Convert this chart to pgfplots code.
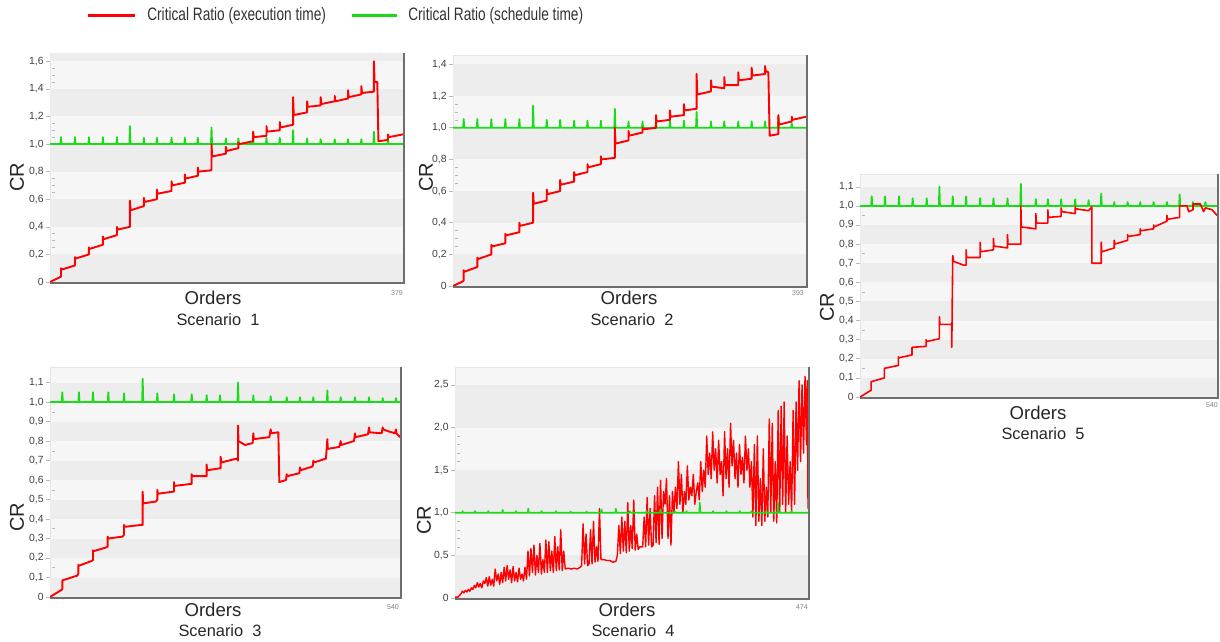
\documentclass[border=0pt]{standalone}
\usepackage{fontspec}
\setmainfont{Liberation Sans}
\usepackage{pgfplots}
\pgfplotsset{compat=1.18}
\definecolor{crred}{RGB}{255,0,0}
\definecolor{crgreen}{RGB}{25,220,25}
\definecolor{bandlight}{RGB}{246,246,246}
\definecolor{banddark}{RGB}{237,237,237}
\definecolor{shadowc}{RGB}{110,110,110}
\pgfplotsset{
 panel/.style={
  scale only axis, anchor=south west,
  xmin=0, ymin=0, xtick=\empty,
  axis background/.style={fill=bandlight},
  axis line style={draw=gray!20, line width=0.3pt},
  tick align=outside,
  major tick length=2pt, minor tick length=1.6pt,
  every tick/.style={gray!55, line width=0.3pt},
  minor tick style={xshift=2.4pt},
  ytick pos=left,
  yticklabel style={font=\fontsize{5.2}{6}\selectfont, text=gray!50!black, inner sep=1pt},
  /pgf/number format/assume math mode=true,
  after end axis/.code={\draw[shadowc, line width=1.2pt] ([xshift=0.6pt]rel axis cs:1,1) -- ([xshift=0.6pt,yshift=-0.6pt]rel axis cs:1,0) -- ([yshift=-0.6pt]rel axis cs:0,0);},
 },
 redl/.style={crred, line width=0.95pt, line join=round},
 grnl/.style={crgreen, line width=0.9pt, line join=round},
}
\begin{document}
\begin{tikzpicture}
\useasboundingbox (0,0) rectangle (610pt,-321pt);
% legend
\draw[crred, line width=1.5pt] (44pt,-8pt) -- (67.5pt,-8pt);
\node[anchor=west, inner sep=0pt, xscale=0.76, font=\fontsize{9}{10}\selectfont, text=black!80] at (73.5pt,-8pt) {Critical Ratio (execution time)};
\draw[crgreen, line width=1.5pt] (176pt,-8pt) -- (198.5pt,-8pt);
\node[anchor=west, inner sep=0pt, xscale=0.76, font=\fontsize{9}{10}\selectfont, text=black!80] at (204pt,-8pt) {Critical Ratio (schedule time)};

% ---------------- Scenario 1 ----------------
\begin{axis}[panel, at={(25pt,-141pt)}, width=176.5pt, height=114.5pt,
  xmax=379, ymax=1.66,
  ytick={0,0.2,0.4,0.6,0.8,1.0,1.2,1.4,1.6},
  yticklabels={0,{0,2},{0,4},{0,6},{0,8},{1,0},{1,2},{1,4},{1,6}},
  minor y tick num=3]
\fill[banddark] (axis cs:-5,0) rectangle (axis cs:400,0.2);
\fill[banddark] (axis cs:-5,0.4) rectangle (axis cs:400,0.6);
\fill[banddark] (axis cs:-5,0.8) rectangle (axis cs:400,1.0);
\fill[banddark] (axis cs:-5,1.2) rectangle (axis cs:400,1.4);
\fill[banddark] (axis cs:-5,1.6) rectangle (axis cs:400,1.8);
\addplot[grnl] coordinates {(0,1) (11.2,1) (11.8,1.05) (12.4,1) (26.2,1) (26.8,1.05) (27.4,1) (41.2,1) (41.8,1.05) (42.4,1) (56.2,1) (56.8,1.05) (57.4,1) (71.3,1) (71.9,1.05) (72.5,1) (85.2,1) (85.8,1.13) (86.4,1) (100.2,1) (100.8,1.045) (101.4,1) (114.2,1) (114.8,1.045) (115.4,1) (129.9,1) (130.5,1.045) (131.1,1) (144.2,1) (144.8,1.045) (145.4,1) (158.1,1) (158.7,1.045) (159.3,1) (172.8,1) (173.4,1.12) (174,1) (188.2,1) (188.8,1.04) (189.4,1) (201.7,1) (202.3,1.04) (202.9,1) (217.5,1) (218.1,1.05) (218.7,1) (231.8,1) (232.4,1.045) (233,1) (246.1,1) (246.7,1.045) (247.3,1) (260.4,1) (261,1.10) (261.6,1) (275.4,1) (276,1.04) (276.6,1) (290,1) (290.6,1.035) (291.2,1) (305.1,1) (305.7,1.035) (306.3,1) (319.4,1) (320,1.035) (320.6,1) (333.7,1) (334.3,1.035) (334.9,1) (347.2,1) (347.8,1.09) (348.4,1) (362.3,1) (362.9,1.03) (363.5,1) (379,1)};
\addplot[redl] coordinates {(0,0) (10.7,0.035) (11.8,0.04)
(11.8,0.10) (12.5,0.09) (26.8,0.12)
(26.8,0.18) (27.5,0.17) (41.8,0.20)
(41.8,0.25) (42.5,0.24) (56.8,0.27)
(56.8,0.33) (57.5,0.31) (71.9,0.34)
(71.9,0.40) (72.6,0.38) (85.8,0.40)
(85.8,0.59) (86.5,0.52) (100.8,0.55)
(100.8,0.61) (101.5,0.58) (114.8,0.60)
(114.8,0.67) (115.5,0.64) (130.5,0.66)
(130.5,0.73) (131.2,0.70) (144.8,0.72)
(144.8,0.78) (145.5,0.75) (158.7,0.77)
(158.7,0.83) (159.4,0.80) (173.4,0.81)
(173.4,1.00) (174.1,0.91) (188.8,0.93)
(188.8,0.98) (189.5,0.95) (202.3,0.97)
(202.3,1.01) (203,1.00) (218.1,1.02)
(218.1,1.09) (218.8,1.05) (232.4,1.06)
(232.4,1.13) (233.1,1.09) (246.7,1.10)
(246.7,1.16) (247.4,1.12) (261,1.14)
(261,1.34) (261.7,1.21) (276,1.23)
(276,1.31) (276.7,1.27) (290.6,1.28)
(290.6,1.34) (291.3,1.29) (305.7,1.31)
(305.7,1.35) (306.4,1.31) (320,1.33)
(320,1.39) (320.7,1.34) (334.3,1.36)
(334.3,1.42) (335,1.37) (347.8,1.38)
(347.8,1.60) (348.5,1.45) (351.4,1.45)
(352.6,1.02) (362.9,1.03)
(362.9,1.07) (363.6,1.05) (379,1.07)};
\end{axis}

% ---------------- Scenario 2 ----------------
\begin{axis}[panel, at={(226.5pt,-143pt)}, width=176.5pt, height=115.5pt,
  xmax=393, ymax=1.46,
  ytick={0,0.2,0.4,0.6,0.8,1.0,1.2,1.4},
  yticklabels={0,{0,2},{0,4},{0,6},{0,8},{1,0},{1,2},{1,4}},
  minor y tick num=3]
\fill[banddark] (axis cs:-5,0) rectangle (axis cs:400,0.2);
\fill[banddark] (axis cs:-5,0.4) rectangle (axis cs:400,0.6);
\fill[banddark] (axis cs:-5,0.8) rectangle (axis cs:400,1.0);
\fill[banddark] (axis cs:-5,1.2) rectangle (axis cs:400,1.4);
\addplot[grnl] coordinates {(0,1) (11.3,1) (11.9,1.055) (12.5,1) (26.5,1) (27.1,1.055) (27.7,1) (42.1,1) (42.7,1.055) (43.3,1) (57.7,1) (58.3,1.055) (58.9,1) (73.3,1) (73.9,1.055) (74.5,1) (88.6,1) (89.2,1.14) (89.8,1) (103.8,1) (104.4,1.05) (105,1) (118.7,1) (119.3,1.05) (119.9,1) (134.3,1) (134.9,1.045) (135.5,1) (149.1,1) (149.7,1.045) (150.3,1) (164,1) (164.6,1.045) (165.2,1) (179.6,1) (180.2,1.12) (180.8,1) (194.8,1) (195.4,1.04) (196,1) (210.4,1) (211,1.04) (211.6,1) (225.4,1) (226,1.045) (226.6,1) (240.9,1) (241.5,1.045) (242.1,1) (256.5,1) (257.1,1.045) (257.7,1) (270.6,1) (271.2,1.10) (271.8,1) (286.6,1) (287.2,1.04) (287.8,1) (301.4,1) (302,1.04) (302.6,1) (317,1) (317.6,1.04) (318.2,1) (331.9,1) (332.5,1.04) (333.1,1) (346.8,1) (347.4,1.04) (348,1) (361.6,1) (362.2,1.07) (362.8,1) (376.5,1) (377.1,1.03) (377.7,1) (393,1)};
\addplot[redl] coordinates {(0,0) (11.2,0.03) (11.9,0.035)
(11.9,0.10) (12.6,0.09) (27.1,0.12)
(27.1,0.18) (27.8,0.17) (42.7,0.20)
(42.7,0.26) (43.4,0.25) (58.3,0.27)
(58.3,0.33) (59,0.32) (73.9,0.34)
(73.9,0.40) (74.6,0.38) (89.2,0.40)
(89.2,0.59) (89.9,0.52) (104.4,0.54)
(104.4,0.61) (105.1,0.58) (119.3,0.60)
(119.3,0.67) (120,0.64) (134.9,0.66)
(134.9,0.72) (135.6,0.70) (149.7,0.72)
(149.7,0.77) (150.4,0.75) (164.6,0.77)
(164.6,0.82) (165.3,0.80) (180.2,0.81)
(180.2,1.00) (180.9,0.90) (195.4,0.92)
(195.4,0.98) (196.1,0.95) (211,0.97)
(211,1.00) (211.7,0.99) (226,1.00)
(226,1.08) (226.7,1.04) (241.5,1.05)
(241.5,1.11) (242.2,1.07) (257.1,1.08)
(257.1,1.15) (257.8,1.11) (271.2,1.12)
(271.2,1.34) (271.9,1.21) (287.2,1.23)
(287.2,1.30) (287.9,1.26) (302,1.25)
(302,1.32) (302.7,1.27) (317.6,1.27)
(317.6,1.35) (318.3,1.30) (332.5,1.31)
(332.5,1.38) (333.2,1.33) (347.4,1.34)
(347.4,1.39) (348.1,1.36) (351.1,1.35)
(352.5,0.95) (362.2,0.96)
(362.2,1.08) (362.9,1.02) (377.1,1.04)
(377.1,1.07) (377.8,1.05) (393,1.07)};
\end{axis}

% ---------------- Scenario 5 ----------------
\begin{axis}[panel, at={(430pt,-198.5pt)}, width=178.5pt, height=111.5pt,
  xmax=540, ymax=1.167,
  ytick={0,0.1,0.2,0.3,0.4,0.5,0.6,0.7,0.8,0.9,1.0,1.1},
  yticklabels={0,{0,1},{0,2},{0,3},{0,4},{0,5},{0,6},{0,7},{0,8},{0,9},{1,0},{1,1}},
  minor y tick num=1]
\fill[banddark] (axis cs:-5,0) rectangle (axis cs:560,0.1);
\fill[banddark] (axis cs:-5,0.2) rectangle (axis cs:560,0.3);
\fill[banddark] (axis cs:-5,0.4) rectangle (axis cs:560,0.5);
\fill[banddark] (axis cs:-5,0.6) rectangle (axis cs:560,0.7);
\fill[banddark] (axis cs:-5,0.8) rectangle (axis cs:560,0.9);
\fill[banddark] (axis cs:-5,1.0) rectangle (axis cs:560,1.1);
\addplot[grnl] coordinates {(0,1) (16.9,1) (17.7,1.05) (18.5,1) (37.1,1) (37.9,1.05) (38.7,1) (58.2,1) (59,1.05) (59.8,1) (78.9,1) (79.7,1.04) (80.5,1) (100.1,1) (100.9,1.04) (101.7,1) (119.3,1) (120.1,1.10) (120.9,1) (139.5,1) (140.3,1.05) (141.1,1) (159.7,1) (160.5,1.05) (161.3,1) (180.9,1) (181.7,1.04) (182.5,1) (201.1,1) (201.9,1.04) (202.7,1) (222.3,1) (223.1,1.04) (223.9,1) (242.5,1) (243.3,1.115) (244.1,1) (265.2,1) (266,1.035) (266.8,1) (283.3,1) (284.1,1.035) (284.9,1) (303.5,1) (304.3,1.035) (305.1,1) (324.7,1) (325.5,1.035) (326.3,1) (344.9,1) (345.7,1.03) (346.5,1) (364.1,1) (364.9,1.065) (365.7,1) (383.8,1) (384.6,1.02) (385.4,1) (404,1) (404.8,1.02) (405.6,1) (423.1,1) (423.9,1.02) (424.7,1) (443.3,1) (444.1,1.02) (444.9,1) (463.5,1) (464.3,1.02) (465.1,1) (482.7,1) (483.5,1.06) (484.3,1) (502.9,1) (503.7,1.02) (504.5,1) (521.6,1) (522.4,1.02) (523.2,1) (540,1)};
\addplot[redl, line width=0.8pt] coordinates {(0,0) (16.7,0.035) (16.7,0.08) (36.8,0.10)
(36.8,0.15) (58,0.165)
(58,0.21) (58.7,0.205) (78.7,0.22)
(78.7,0.26) (99.9,0.265)
(99.9,0.30) (100.6,0.29) (120.1,0.305)
(120.1,0.42) (120.8,0.38) (138.8,0.38)
(138.8,0.26) (140.3,0.74) (141.5,0.71) (156.5,0.69) (160.5,0.69)
(160.5,0.77) (161.2,0.73) (181.7,0.73)
(181.7,0.81) (182.4,0.76) (201.9,0.77)
(201.9,0.83) (202.6,0.79) (223.1,0.78)
(223.1,0.85) (223.8,0.80) (243.3,0.80)
(243.3,1.00) (244,0.89) (266,0.88)
(266,0.96) (266.7,0.91) (284.1,0.91)
(284.1,0.98) (284.8,0.94) (304.3,0.945)
(304.3,0.99) (305,0.97) (325.5,0.96)
(325.5,0.995) (326.2,0.985) (345.7,0.975)
(350.8,0.995) (350.8,0.70) (364.9,0.70)
(364.9,0.81) (365.6,0.76) (384.6,0.78)
(384.6,0.82) (385.3,0.80) (404.8,0.82)
(404.8,0.85) (405.5,0.84) (423.9,0.85)
(423.9,0.88) (424.6,0.87) (444.1,0.88)
(444.1,0.90) (444.8,0.89) (464.3,0.92)
(464.3,0.95) (465,0.93) (483.5,0.94)
(483.5,1.0) (494.6,1.0) (497.1,0.97) (503.7,0.98)
(503.7,1.01) (514.8,1.01) (519.8,0.97) (522.4,0.99) (532.5,0.98) (540,0.95)};
\end{axis}

% ---------------- Scenario 3 ----------------
\begin{axis}[panel, at={(25pt,-298.5pt)}, width=175pt, height=115pt,
  xmax=540, ymax=1.18,
  ytick={0,0.1,0.2,0.3,0.4,0.5,0.6,0.7,0.8,0.9,1.0,1.1},
  yticklabels={0,{0,1},{0,2},{0,3},{0,4},{0,5},{0,6},{0,7},{0,8},{0,9},{1,0},{1,1}},
  minor y tick num=1]
\fill[banddark] (axis cs:-5,0) rectangle (axis cs:560,0.1);
\fill[banddark] (axis cs:-5,0.2) rectangle (axis cs:560,0.3);
\fill[banddark] (axis cs:-5,0.4) rectangle (axis cs:560,0.5);
\fill[banddark] (axis cs:-5,0.6) rectangle (axis cs:560,0.7);
\fill[banddark] (axis cs:-5,0.8) rectangle (axis cs:560,0.9);
\fill[banddark] (axis cs:-5,1.0) rectangle (axis cs:560,1.1);
\addplot[grnl] coordinates {(0,1) (18.2,1) (19,1.05) (19.8,1) (43.9,1) (44.7,1.05) (45.5,1) (65.5,1) (66.3,1.05) (67.1,1) (89.2,1) (90,1.05) (90.8,1) (113.4,1) (114.2,1.045) (115,1) (142.2,1) (143,1.12) (143.8,1) (164.8,1) (165.6,1.045) (166.4,1) (190.5,1) (191.3,1.04) (192.1,1) (217.8,1) (218.6,1.04) (219.4,1) (240.9,1) (241.7,1.035) (242.5,1) (261.5,1) (262.3,1.035) (263.1,1) (289.3,1) (290.1,1.10) (290.9,1) (312.9,1) (313.7,1.035) (314.5,1) (339.7,1) (340.5,1.03) (341.3,1) (364.4,1) (365.2,1.025) (366,1) (384.9,1) (385.7,1.025) (386.5,1) (405.5,1) (406.3,1.025) (407.1,1) (427.1,1) (427.9,1.06) (428.7,1) (447.7,1) (448.5,1.025) (449.3,1) (469.8,1) (470.6,1.025) (471.4,1) (491.4,1) (492.2,1.025) (493,1) (512.5,1) (513.3,1.02) (514.1,1) (533,1) (533.8,1.02) (534.6,1) (540,1)};
\addplot[redl] coordinates {(0,0) (17,0.035) (19,0.04)
(19,0.085) (42.2,0.11) (43.7,0.12)
(43.7,0.165) (44.4,0.16) (64.3,0.185) (66.3,0.19)
(66.3,0.24) (67,0.235) (87.4,0.255) (89,0.26)
(89,0.31) (89.7,0.30) (112.1,0.31) (114.2,0.32)
(114.2,0.37) (114.9,0.36) (141.4,0.37) (143,0.37)
(143,0.54) (143.7,0.48) (163.5,0.49) (165.6,0.50)
(165.6,0.55) (166.3,0.53) (189.3,0.54) (191.3,0.54)
(191.3,0.59) (192,0.57) (217,0.58) (218.6,0.58)
(218.6,0.63) (219.3,0.62) (240.2,0.62) (241.7,0.62)
(241.7,0.68) (242.4,0.65) (261.3,0.66) (263.3,0.66)
(263.3,0.72) (264,0.69) (288,0.71) (290.1,0.70)
(290.1,0.88) (290.8,0.80) (301,0.78) (312.7,0.79)
(313.7,0.84) (314.4,0.81) (338.4,0.82)
(340.5,0.86) (341.2,0.84) (352.3,0.845)
(353.8,0.59) (364.1,0.60)
(365.2,0.63) (365.9,0.62) (384.7,0.635)
(385.7,0.665) (386.4,0.65) (405.3,0.67)
(406.3,0.70) (407,0.69) (425.8,0.71)
(427.9,0.81) (428.6,0.76) (446.4,0.77)
(448.5,0.80) (449.2,0.78) (469,0.80)
(470.6,0.84) (471.3,0.82) (490.6,0.835)
(492.2,0.87) (492.9,0.845) (511.7,0.84)
(513.3,0.87) (514,0.86) (522,0.85) (532.3,0.84)
(533.8,0.86) (534.5,0.84) (540,0.82)};
\end{axis}

% ---------------- Scenario 4 ----------------
\begin{axis}[panel, at={(227.5pt,-299pt)}, width=176.5pt, height=115.5pt,
  xmax=474, ymax=2.71,
  ytick={0,0.5,1.0,1.5,2.0,2.5},
  yticklabels={0,{0,5},{1,0},{1,5},{2,0},{2,5}},
  minor y tick num=4]
\fill[banddark] (axis cs:-5,0) rectangle (axis cs:500,0.5);
\fill[banddark] (axis cs:-5,1.0) rectangle (axis cs:500,1.5);
\fill[banddark] (axis cs:-5,2.0) rectangle (axis cs:500,2.5);
\addplot[crred, line width=0.7pt, line join=round] coordinates {(0,0.01) (4,0.01) (6,0.03) (8,0.05) (10,0.08) (12,0.06) (14,0.09) (16,0.07) (18,0.1) (20,0.08) (22,0.12) (24,0.1) (26,0.15) (28,0.12) (30,0.18) (32,0.13) (34,0.17) (36,0.12) (38,0.2) (40,0.17) (42,0.24)
(44,0.14) (46,0.25) (48,0.15) (50,0.22) (52,0.14) (54,0.34) (56,0.2) (58,0.28) (60,0.16) (62,0.3) (64,0.18) (66,0.36) (68,0.2) (70,0.38) (72,0.22) (74,0.33) (76,0.18) (78,0.37) (80,0.2) (82,0.3) (84,0.19) (86,0.35) (88,0.22) (90,0.28) (92,0.2) (94,0.36) (96,0.22)
(98,0.55) (100,0.26) (102,0.58) (104,0.3) (106,0.62) (108,0.27) (110,0.5) (112,0.3) (114,0.64) (116,0.28) (118,0.45) (120,0.3) (122,0.68) (124,0.3) (126,0.66) (128,0.32) (130,0.55) (132,0.3) (134,0.72) (136,0.32) (138,0.6) (140,0.33) (142,0.8) (144,0.32) (146,0.55) (148,0.34)
(152,0.35) (156,0.34) (160,0.35) (164,0.34) (168,0.36)
(170,0.38) (172,0.87) (174,0.4) (176,0.75) (178,0.38) (180,0.4) (182,0.8) (184,0.4) (186,0.9) (188,0.42) (190,0.6) (192,0.43) (194,1.05) (196,0.45)
(200,0.45) (204,0.44) (208,0.44) (212,0.42) (216,0.43)
(218,0.5) (220,0.85) (222,0.52) (224,0.95) (226,0.55) (228,0.9) (230,0.53) (232,1.12) (234,0.55) (236,0.85) (238,0.58) (240,1.15) (242,0.56) (244,0.75) (246,0.57) (248,0.6) (252,0.6) (254,0.95) (256,0.6) (258,1.18) (260,0.62) (262,1.05) (264,0.6)
(266,0.62) (268,1.2) (270,0.65) (272,1.3) (274,0.63) (276,1.38) (278,0.7) (280,1.25) (282,1.1) (284,1.4) (286,0.7) (288,1.2) (290,0.62) (292,1.25)
(294,1.0) (296,1.3) (298,1.05) (300,1.6) (302,1.1) (304,1.45) (306,1.0) (308,1.25) (310,1.1) (312,1.55) (314,1.15) (316,1.3) (318,1.2) (320,1.45) (322,1.1) (324,1.25) (326,1.35) (328,1.15) (330,1.6) (332,1.25)
(334,1.5) (336,1.3) (338,1.9) (340,1.45) (342,1.7) (344,1.4) (346,1.95) (348,1.5) (350,1.75) (352,1.35) (354,1.85) (356,1.45) (358,1.6) (360,1.2) (362,1.95) (364,1.4) (366,1.75) (368,1.3) (370,2.05) (372,1.55) (374,1.85) (376,1.4) (378,1.7) (380,1.3) (382,1.8) (384,1.45) (386,1.65) (388,1.35) (390,1.9) (392,1.5) (394,1.75) (396,1.3) (398,1.6)
(400,0.95) (402,1.8) (404,0.85) (406,1.9) (408,0.9) (410,1.4) (412,0.85) (414,1.75) (416,0.9) (418,1.3) (420,0.95) (422,2.1) (424,1.0) (426,2.05) (428,0.9) (430,1.6) (432,0.88) (434,2.2) (436,1.0)
(438,2.25) (440,1.1) (442,2.3) (444,1.0) (446,1.9) (448,1.1) (450,1.6) (452,1.0) (454,2.2) (456,1.1)
(458,2.3) (460,1.5) (462,2.55) (464,1.6) (466,2.5) (468,1.7) (470,2.6) (472,1.8) (473,2.55) (474,1.05)};
\addplot[grnl, line width=0.8pt] coordinates {(0,1) (9.6,1) (10.3,1.02) (11,1) (26.1,1) (26.8,1.02) (27.5,1) (44,1) (44.7,1.02) (45.4,1) (63.3,1) (64,1.035) (64.7,1) (81.1,1) (81.8,1.02) (82.5,1) (97.7,1) (98.4,1.05) (99.1,1) (115.6,1) (116.3,1.02) (117,1) (134.8,1) (135.5,1.02) (136.2,1) (154.5,1) (155.2,1.015) (155.9,1) (175.9,1) (176.6,1.015) (177.3,1) (196.1,1) (196.8,1.04) (197.5,1) (215.3,1) (216,1.05) (216.7,1) (234.1,1) (234.8,1.02) (235.5,1) (256.4,1) (257.1,1.02) (257.8,1) (275.2,1) (275.9,1.04) (276.6,1) (294.5,1) (295.2,1.02) (295.9,1) (310.1,1) (310.8,1.02) (311.5,1) (328,1) (328.7,1.12) (329.4,1) (345.9,1) (346.6,1.02) (347.3,1) (363.8,1) (364.5,1.02) (365.2,1) (381.7,1) (382.4,1.02) (383.1,1) (397.3,1) (398,1.02) (398.7,1) (417.4,1) (418.1,1.02) (418.8,1) (433.1,1) (433.8,1.12) (434.5,1) (451,1) (451.7,1.02) (452.4,1) (474,1)};
\end{axis}

% ---------------- labels ----------------
\begin{scope}[every node/.style={inner sep=0pt, text=black!85}]
\node[font=\fontsize{9.3}{10}\selectfont] at (106.5pt,-149pt) {Orders};
\node[font=\fontsize{8.2}{9}\selectfont] at (109pt,-160pt) {Scenario\ \ 1};
\node[font=\fontsize{10}{11}\selectfont, rotate=90] at (8.5pt,-88.5pt) {CR};
\node[font=\fontsize{3.5}{4}\selectfont, text=gray] at (198.5pt,-146.5pt) {379};

\node[font=\fontsize{9.3}{10}\selectfont] at (314.5pt,-149pt) {Orders};
\node[font=\fontsize{8.2}{9}\selectfont] at (316pt,-160pt) {Scenario\ \ 2};
\node[font=\fontsize{10}{11}\selectfont, rotate=90] at (213pt,-88.5pt) {CR};
\node[font=\fontsize{3.5}{4}\selectfont, text=gray] at (399pt,-146.5pt) {393};

\node[font=\fontsize{9.3}{10}\selectfont] at (519pt,-206.5pt) {Orders};
\node[font=\fontsize{8.2}{9}\selectfont] at (521.5pt,-217pt) {Scenario\ \ 5};
\node[font=\fontsize{10}{11}\selectfont, rotate=90] at (413.5pt,-153.5pt) {CR};
\node[font=\fontsize{3.5}{4}\selectfont, text=gray] at (606pt,-202.5pt) {540};

\node[font=\fontsize{9.3}{10}\selectfont] at (106.5pt,-305pt) {Orders};
\node[font=\fontsize{8.2}{9}\selectfont] at (110pt,-315.5pt) {Scenario\ \ 3};
\node[font=\fontsize{10}{11}\selectfont, rotate=90] at (8.5pt,-258.5pt) {CR};
\node[font=\fontsize{3.5}{4}\selectfont, text=gray] at (196.5pt,-303.5pt) {540};

\node[font=\fontsize{9.3}{10}\selectfont] at (313.5pt,-305pt) {Orders};
\node[font=\fontsize{8.2}{9}\selectfont] at (316.5pt,-315.5pt) {Scenario\ \ 4};
\node[font=\fontsize{10}{11}\selectfont, rotate=90] at (212pt,-260pt) {CR};
\node[font=\fontsize{3.5}{4}\selectfont, text=gray] at (401pt,-303.5pt) {474};
\end{scope}
\end{tikzpicture}
\end{document}
